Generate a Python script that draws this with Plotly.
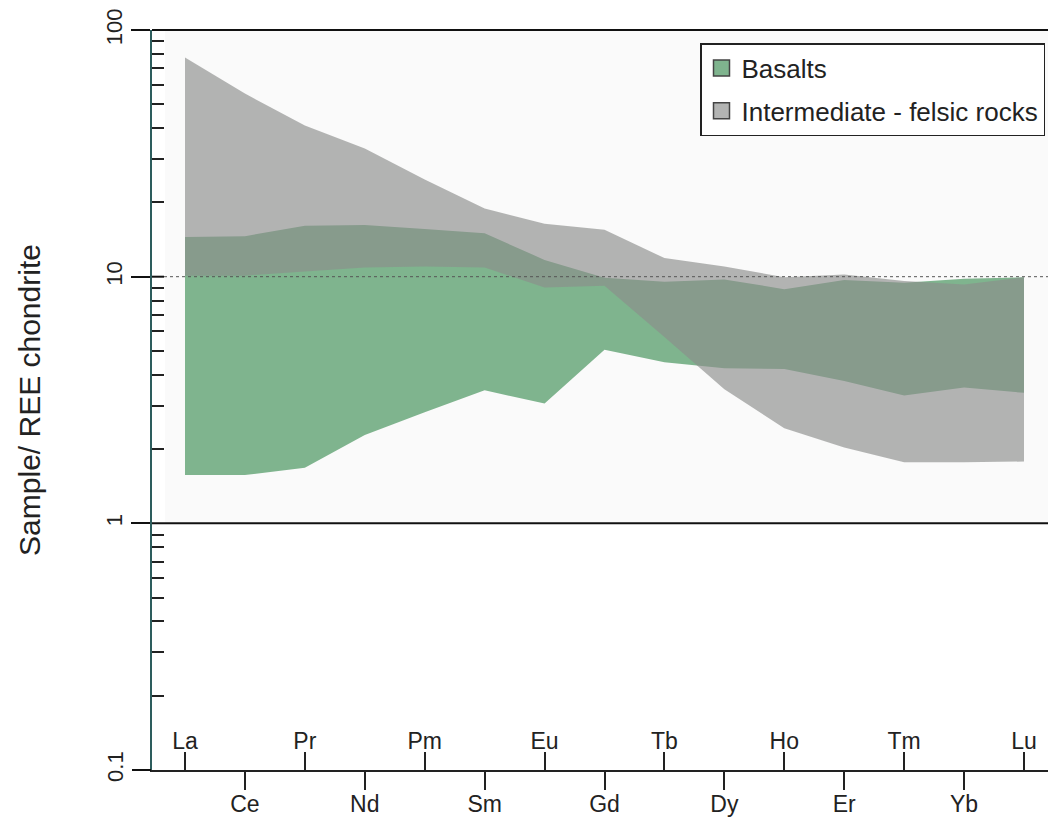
import math
import plotly.graph_objects as go

# Rare earth elements along the x axis
elements = ["La", "Ce", "Pr", "Nd", "Pm", "Sm", "Eu", "Gd",
            "Tb", "Dy", "Ho", "Er", "Tm", "Yb", "Lu"]

# Chondrite-normalised envelopes (upper / lower bounds) for each rock group
basalt_max = [14.5, 14.6, 16.1, 16.2, 15.6, 15.0, 11.7, 9.9,
              9.55, 9.75, 8.9, 9.7, 9.45, 9.8, 9.95]
basalt_min = [1.57, 1.57, 1.68, 2.28, 2.82, 3.46, 3.06, 5.05,
              4.5, 4.25, 4.22, 3.78, 3.3, 3.55, 3.38]
felsic_max = [77.4, 55.3, 41.0, 33.1, 24.8, 18.9, 16.4, 15.5,
              11.9, 11.0, 9.95, 10.2, 9.6, 9.3, 9.95]
felsic_min = [10.1, 10.1, 10.5, 10.9, 11.0, 10.9, 9.05, 9.2,
              5.7, 3.5, 2.43, 2.03, 1.77, 1.77, 1.78]

y_ticks = [1, 10, 100]
y_tick_text = ["1", "10", "100"]
y_bottom_tick = [0.1]
y_bottom_text = ["0.1"]
minor_ticks = [m * d for d in (0.1, 1, 10) for m in range(2, 10)]

FONT = "Liberation Sans, Arial, sans-serif"
TEXT = "#222222"
GREEN = "#7fb48e"
GREY = "rgba(140,142,140,0.65)"

idx = list(range(len(elements)))


def envelope(upper, lower):
    xs = idx + idx[::-1]
    ys = list(upper) + list(lower)[::-1]
    return xs, ys


fig = go.Figure()

bx, by = envelope(basalt_max, basalt_min)
fig.add_trace(go.Scatter(x=bx, y=by, fill="toself", fillcolor=GREEN,
                         mode="none", showlegend=False, hoverinfo="skip"))
fx, fy = envelope(felsic_max, felsic_min)
fig.add_trace(go.Scatter(x=fx, y=fy, fill="toself", fillcolor=GREY,
                         mode="none", showlegend=False, hoverinfo="skip"))

# Legend swatches
fig.add_trace(go.Scatter(x=[None], y=[None], mode="markers", name="Basalts",
                         legendgroup="a",
                         marker=dict(symbol="square", size=16, color=GREEN,
                                     line=dict(color="#444", width=1.5))))
fig.add_trace(go.Scatter(x=[None], y=[None], mode="markers",
                         name="Intermediate - felsic rocks", legendgroup="b",
                         marker=dict(symbol="square", size=16, color="#b3b4b3",
                                     line=dict(color="#444", width=1.5))))

W, H = 1048, 818
ML, MR, MT, MB = 152, 0, 30, 48
pw = W - ML - MR
ph = H - MT - MB

# pixel positions of La and Lu set the x scale
x_lo = -(185 - ML) / ((1024 - 185) / 14)
x_hi = x_lo + pw / ((1024 - 185) / 14)
pad = 0.0004
y_lo, y_hi = -1 - pad, 2 + pad


def ypaper(v):
    return (math.log10(v) - y_lo) / (y_hi - y_lo)


shapes = [
    # faint panel behind the 1-100 range
    dict(type="rect", xref="paper", yref="paper", x0=13 / pw, x1=1,
         y0=ypaper(1), y1=ypaper(100), fillcolor="#fafafa",
         line=dict(width=0), layer="below"),
    dict(type="line", xref="paper", yref="paper", x0=0, x1=1,
         y0=ypaper(100), y1=ypaper(100), line=dict(color="#111", width=2)),
    dict(type="line", xref="paper", yref="paper", x0=0, x1=1,
         y0=ypaper(1), y1=ypaper(1), line=dict(color="#111", width=2)),
    dict(type="line", xref="paper", yref="paper", x0=12 / pw, x1=1,
         y0=ypaper(10), y1=ypaper(10),
         line=dict(color="#555", width=1, dash="dot")),
    dict(type="line", xref="paper", yref="paper", x0=0, x1=12 / pw,
         y0=ypaper(10), y1=ypaper(10), line=dict(color="#111", width=2)),
]

yaxis_common = dict(
    type="log", range=[y_lo, y_hi], showgrid=False, zeroline=False,
    automargin=False, tickmode="array",
    ticks="outside", ticklen=19, tickwidth=2, tickcolor="#111",
    tickangle=-90, tickfont=dict(size=22, family=FONT, color=TEXT),
)

fig.update_layout(
    template="none",
    width=W, height=H,
    margin=dict(l=ML, r=MR, t=MT, b=MB, pad=0, autoexpand=False),
    paper_bgcolor="white", plot_bgcolor="white",
    font=dict(family=FONT, color=TEXT, size=22),
    shapes=shapes,
    xaxis=dict(
        range=[x_lo, x_hi], showgrid=False, zeroline=False, automargin=False,
        tickmode="array", tickvals=idx[1::2], ticktext=elements[1::2],
        ticks="outside", ticklen=18, tickwidth=2, tickcolor="#222",
        showline=True, linecolor="#222", linewidth=2,
        ticklabelstandoff=-6,
        tickfont=dict(size=23, family=FONT, color=TEXT),
    ),
    xaxis2=dict(
        range=[x_lo, x_hi], overlaying="x", anchor="y", side="bottom",
        showgrid=False, zeroline=False, showline=False, automargin=False,
        tickmode="array", tickvals=idx[0::2], ticktext=elements[0::2],
        ticks="inside", ticklen=18, tickwidth=2, tickcolor="#222",
        ticklabelposition="inside",
        tickfont=dict(size=23, family=FONT, color=TEXT),
    ),
    yaxis=dict(
        **yaxis_common,
        tickvals=y_ticks, ticktext=y_tick_text,
        showline=True, linecolor="#2d5d5d", linewidth=2,
        minor=dict(ticks="inside", ticklen=12, tickwidth=2,
                   tickcolor="#222", tickvals=minor_ticks, showgrid=False),
        title=dict(text="Sample/ REE chondrite", standoff=53,
                   font=dict(size=30, family=FONT, color=TEXT)),
    ),
    # bottom decade label lives on its own overlay axis
    yaxis2=dict(
        **yaxis_common,
        overlaying="y", side="left", anchor="x",
        tickvals=y_bottom_tick, ticktext=y_bottom_text, showline=False,
    ),
    legend=dict(
        x=(700 - ML) / pw, y=(MT + ph - 43) / ph, xanchor="left", yanchor="top",
        bgcolor="white", bordercolor="#222", borderwidth=1.5,
        font=dict(size=26, family=FONT, color=TEXT),
        itemsizing="trace", tracegroupgap=6,
    ),
)

# empty traces so the overlay axes are rendered
fig.add_trace(go.Scatter(x=[None], y=[None], xaxis="x2", yaxis="y",
                         showlegend=False, hoverinfo="skip"))
fig.add_trace(go.Scatter(x=[None], y=[None], xaxis="x", yaxis="y2",
                         showlegend=False, hoverinfo="skip"))

fig.write_html("out.html")
